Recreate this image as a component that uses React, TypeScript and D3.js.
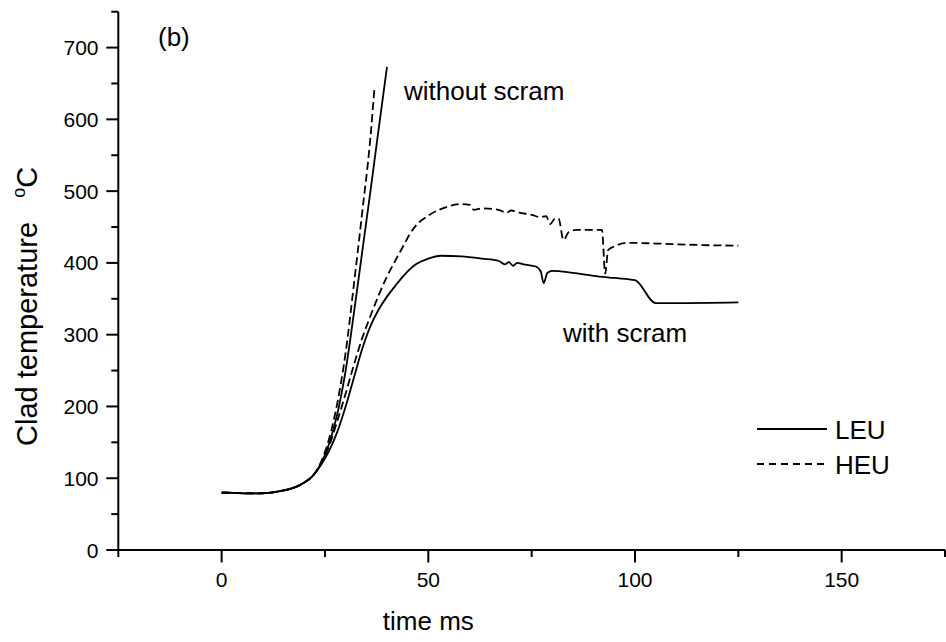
import React from "react";
import * as d3 from "d3";

const xTicksMajor = [0, 50, 100, 150];
const xTicksMinor = [-25, 25, 75, 125, 175];
const yTicksMajor = [0, 100, 200, 300, 400, 500, 600, 700];
const yTicksMinor = [50, 150, 250, 350, 450, 550, 650, 750];

const baseStart: [number, number][] = [
  [0, 80], [3, 79.5], [6, 79], [9, 79], [12, 80], [15, 83], [18, 88], [20, 94], [22, 103],
];
const leuNoScram: [number, number][] = [
  [24, 120], [26, 148], [28, 190], [30, 250], [32, 330], [34, 415], [36, 500], [38, 587], [40, 673],
];
const heuNoScram: [number, number][] = [
  [24, 122], [26, 155], [28, 205], [30, 275], [32, 370], [34, 470], [36, 575], [37, 646],
];
const leuScram: [number, number][] = [
  [24, 118], [26, 138], [28, 165], [30, 200], [32, 240], [34, 280], [36, 312], [38, 335], [40, 353],
  [42, 368], [44, 382], [47, 398], [50, 406], [53, 410], [58, 409], [63, 406], [67, 403], [68.5, 398],
  [69.5, 401], [70.5, 396], [71.5, 400], [73, 398], [76, 395], [77.2, 388], [77.9, 372], [78.8, 386],
  [80, 389], [85, 386], [90, 382], [95, 379], [100, 376], [105, 344], [110, 344], [125, 345],
];
const heuScram: [number, number][] = [
  [24, 120], [26, 145], [28, 180], [30, 218], [32, 258], [34, 295], [36, 326], [38, 355], [40, 381],
  [42, 403], [44, 424], [45.6, 441], [47, 452], [50, 466], [54, 477], [58, 482], [60, 481], [61, 474],
  [63, 476], [67, 474], [69, 470], [70, 473], [72, 470], [75, 467], [77, 464], [78.5, 465], [79.5, 454],
  [80.5, 461], [81.5, 462], [82.7, 432], [84, 443], [86, 446], [92, 446], [92.8, 385], [93.5, 418],
  [95, 423], [98, 428], [105, 427], [115, 425], [125, 424],
];

const FONT = "Liberation Sans, Arial, sans-serif";

export default function App() {
  const W = 946, H = 642;
  const x = d3.scaleLinear().domain([-25, 175]).range([118.3, 945]);
  const y = d3.scaleLinear().domain([0, 750]).range([550, 11.7]);
  const line = d3.line<[number, number]>().x(d => x(d[0])).y(d => y(d[1])).curve(d3.curveMonotoneX);
  const series = [
    { data: [...baseStart, ...leuNoScram], dash: undefined },
    { data: [...baseStart, ...heuNoScram], dash: "8,4" },
    { data: [...baseStart, ...leuScram], dash: undefined },
    { data: [...baseStart, ...heuScram], dash: "8,4" },
  ];
  const x0 = x(-25), y0 = y(0);
  return (
    <svg width={W} height={H} style={{ position: "absolute", left: 0, top: 0, background: "#fff" }}
      fontFamily={FONT}>
      {series.map((s, i) => (
        <path key={i} d={line(s.data) || ""} fill="none" stroke="#000" strokeWidth={1.8}
          strokeDasharray={s.dash} />
      ))}
      {/* axes */}
      <line x1={x0} x2={x0} y1={y(750)} y2={y0} stroke="#000" strokeWidth={2} />
      <line x1={x0} x2={x(175)} y1={y0} y2={y0} stroke="#000" strokeWidth={2} />
      {yTicksMajor.map(v => (
        <g key={"ym" + v}>
          <line x1={x0 - 12} x2={x0} y1={y(v)} y2={y(v)} stroke="#000" strokeWidth={2} />
          <text x={98.5} y={y(v)} dy="0.36em" textAnchor="end" fontSize={21}>{v}</text>
        </g>
      ))}
      {yTicksMinor.map(v => (
        <line key={"yn" + v} x1={x0 - 7} x2={x0} y1={y(v)} y2={y(v)} stroke="#000" strokeWidth={2} />
      ))}
      {xTicksMajor.map(v => (
        <g key={"xm" + v}>
          <line x1={x(v)} x2={x(v)} y1={y0} y2={y0 + 12.5} stroke="#000" strokeWidth={2} />
          <text x={x(v)} y={y0 + 37} textAnchor="middle" fontSize={21}>{v}</text>
        </g>
      ))}
      {xTicksMinor.map(v => (
        <line key={"xn" + v} x1={x(v)} x2={x(v)} y1={y0} y2={y0 + 7} stroke="#000" strokeWidth={2} />
      ))}
      {/* titles */}
      <text x={x(50)} y={630} textAnchor="middle" fontSize={26}>time ms</text>
      <text transform="translate(37,446) rotate(-90)" fontSize={29}>
        Clad temperature{"\u00a0\u00a0\u00a0"}
        <tspan fontSize={18} dy={-12}>o</tspan>
        <tspan dy={12}>C</tspan>
      </text>
      {/* annotations */}
      <text x={158} y={46} fontSize={26}>(b)</text>
      <text x={404} y={100} fontSize={26}>without scram</text>
      <text x={563} y={342} fontSize={26}>with scram</text>
      {/* legend */}
      <line x1={757} x2={827} y1={429} y2={429} stroke="#000" strokeWidth={1.8} />
      <text x={835} y={438.5} fontSize={26}>LEU</text>
      <line x1={757} x2={827} y1={464} y2={464} stroke="#000" strokeWidth={1.8} strokeDasharray="7,5" />
      <text x={835} y={474} fontSize={26}>HEU</text>
    </svg>
  );
}
